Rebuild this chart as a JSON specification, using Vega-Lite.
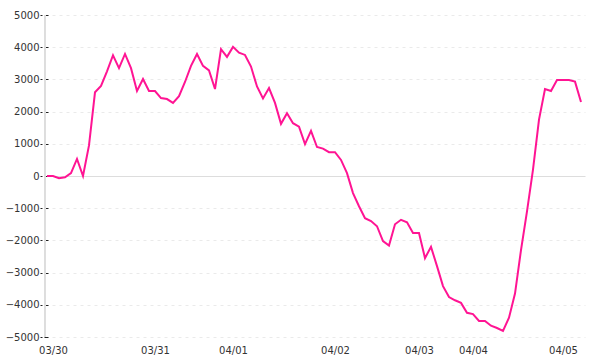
{
  "$schema": "https://vega.github.io/schema/vega-lite/v6.json",
  "width": 540,
  "height": 322,
  "autosize": "none",
  "padding": {"left": 45, "top": 15, "right": 15, "bottom": 23},
  "background": "white",
  "config": {
    "view": {"stroke": null},
    "axis": {"labelFont": "DejaVu Sans", "labelFontSize": 10, "labelColor": "#333", "title": null}
  },
  "data": {
    "values": [
      {"i": 0, "v": 0}, {"i": 1, "v": 0}, {"i": 2, "v": -70}, {"i": 3, "v": -40}, {"i": 4, "v": 90},
      {"i": 5, "v": 530}, {"i": 6, "v": 0}, {"i": 7, "v": 950}, {"i": 8, "v": 2600}, {"i": 9, "v": 2800},
      {"i": 10, "v": 3250}, {"i": 11, "v": 3750}, {"i": 12, "v": 3350}, {"i": 13, "v": 3790}, {"i": 14, "v": 3350},
      {"i": 15, "v": 2640}, {"i": 16, "v": 3010}, {"i": 17, "v": 2640}, {"i": 18, "v": 2640}, {"i": 19, "v": 2420},
      {"i": 20, "v": 2390}, {"i": 21, "v": 2270}, {"i": 22, "v": 2480}, {"i": 23, "v": 2920}, {"i": 24, "v": 3420},
      {"i": 25, "v": 3790}, {"i": 26, "v": 3420}, {"i": 27, "v": 3280}, {"i": 28, "v": 2700}, {"i": 29, "v": 3940},
      {"i": 30, "v": 3700}, {"i": 31, "v": 4010}, {"i": 32, "v": 3830}, {"i": 33, "v": 3760}, {"i": 34, "v": 3400},
      {"i": 35, "v": 2780}, {"i": 36, "v": 2410}, {"i": 37, "v": 2730}, {"i": 38, "v": 2270}, {"i": 39, "v": 1620},
      {"i": 40, "v": 1950}, {"i": 41, "v": 1640}, {"i": 42, "v": 1530}, {"i": 43, "v": 990}, {"i": 44, "v": 1400},
      {"i": 45, "v": 900}, {"i": 46, "v": 850}, {"i": 47, "v": 740}, {"i": 48, "v": 740}, {"i": 49, "v": 500},
      {"i": 50, "v": 90}, {"i": 51, "v": -530}, {"i": 52, "v": -940}, {"i": 53, "v": -1310}, {"i": 54, "v": -1400},
      {"i": 55, "v": -1560}, {"i": 56, "v": -2020}, {"i": 57, "v": -2160}, {"i": 58, "v": -1500}, {"i": 59, "v": -1360},
      {"i": 60, "v": -1440}, {"i": 61, "v": -1770}, {"i": 62, "v": -1770}, {"i": 63, "v": -2550}, {"i": 64, "v": -2200},
      {"i": 65, "v": -2800}, {"i": 66, "v": -3420}, {"i": 67, "v": -3760}, {"i": 68, "v": -3860}, {"i": 69, "v": -3940},
      {"i": 70, "v": -4250}, {"i": 71, "v": -4290}, {"i": 72, "v": -4500}, {"i": 73, "v": -4500}, {"i": 74, "v": -4650},
      {"i": 75, "v": -4720}, {"i": 76, "v": -4810}, {"i": 77, "v": -4400}, {"i": 78, "v": -3650}, {"i": 79, "v": -2300},
      {"i": 80, "v": -1100}, {"i": 81, "v": 200}, {"i": 82, "v": 1750}, {"i": 83, "v": 2700}, {"i": 84, "v": 2640},
      {"i": 85, "v": 2980}, {"i": 86, "v": 2980}, {"i": 87, "v": 2980}, {"i": 88, "v": 2930}, {"i": 89, "v": 2300}
    ]
  },
  "layer": [
    {
      "mark": {"type": "rule", "color": "#dddddd", "strokeWidth": 1},
      "encoding": {
        "x": {"datum": -0.3333, "type": "quantitative", "scale": {"domain": [-0.3333, 89.6667], "nice": false, "zero": false}}
      }
    },
    {
      "mark": {"type": "line", "color": "#ff1493", "strokeWidth": 2, "interpolate": "linear"},
      "encoding": {
        "x": {
          "field": "i",
          "type": "quantitative",
          "scale": {"domain": [-0.3333, 89.6667], "nice": false, "zero": false},
          "axis": {
            "values": [1, 18, 31, 48, 62, 71, 86],
            "labelExpr": "datum.value == 1 ? '03/30' : datum.value == 18 ? '03/31' : datum.value == 31 ? '04/01' : datum.value == 48 ? '04/02' : datum.value == 62 ? '04/03' : datum.value == 71 ? '04/04' : '04/05'",
            "domain": false,
            "ticks": false,
            "grid": false,
            "labelPadding": 8,
            "labelFlush": false
          }
        },
        "y": {
          "field": "v",
          "type": "quantitative",
          "scale": {"domain": [-5000, 5000], "nice": false},
          "axis": {
            "values": [-5000, -4000, -3000, -2000, -1000, 0, 1000, 2000, 3000, 4000, 5000],
            "format": "d",
            "domain": false,
            "offset": -3,
            "tickSize": 8,
            "tickColor": "#222",
            "tickDash": [4, 2],
            "labelPadding": 1,
            "grid": true,
            "gridColor": {"condition": {"test": "datum.value === 0", "value": "#dddddd"}, "value": "#eaeaea"},
            "gridDash": {"condition": {"test": "datum.value === 0", "value": []}, "value": [3, 4]},
            "labelFlush": false
          }
        }
      }
    }
  ]
}
